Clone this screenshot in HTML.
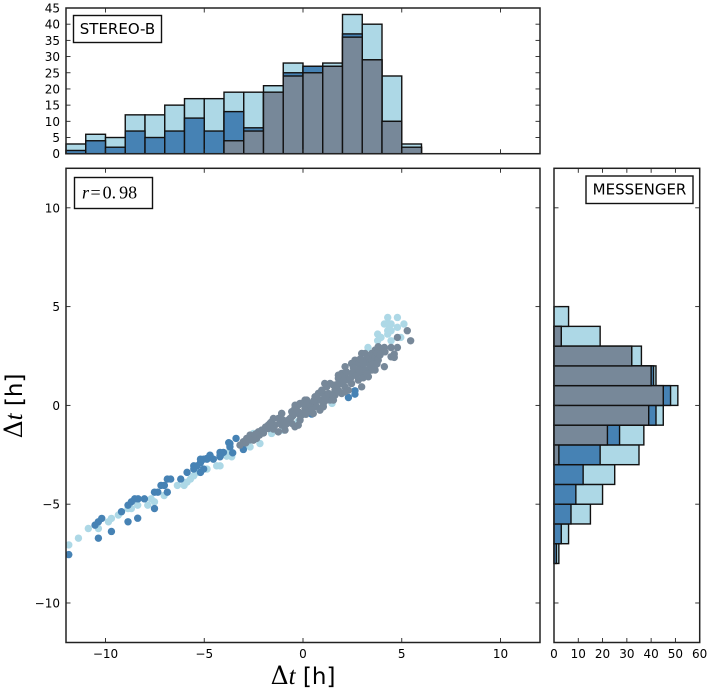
<!DOCTYPE html>
<html>
<head>
<meta charset="utf-8">
<style>
html,body{margin:0;padding:0;background:#fff;}
svg{display:block;filter:blur(0.3px);}
text{font-family:"DejaVu Sans","Liberation Sans",sans-serif;fill:#000;}
</style>
</head>
<body>
<svg id="fig" xmlns="http://www.w3.org/2000/svg" width="709" height="690" viewBox="0 0 709 690"></svg>
<script>
// ---- histogram data ----
const topEdges = [-12,-11,-10,-9,-8,-7,-6,-5,-4,-3,-2,-1,0,1,2,3,4,5,6];
const topLight = [3,6,5,12,12,15,17,17,19,19,21,28,27,28,43,40,24,3];
const topSteel = [1,4,2,7,5,7,11,7,13,8,19,25,27,27,37,29,10,2];
const topGray  = [0,0,0,0,0,0,0,0,4,7,19,24,25,27,36,29,10,2];
const rightEdges = [-8,-7,-6,-5,-4,-3,-2,-1,0,1,2,3,4,5];
const rightLight = [2,6,15,20,25,35,37,45,51,42,36,19,6];
const rightSteel = [1,3,7,9,12,19,27,42,48,41,32,3,0];
const rightGray  = [0,0,0,0,0,2,22,39,45,40,32,3,0];
// ---- tick labels ----
const mainTicks = [-10,-5,0,5,10];
const topCountTicks = [0,5,10,15,20,25,30,35,40,45];
const rightCountTicks = [0,10,20,30,40,50,60];
// ---- scatter data [x, y] in hours ----
const lightPoints = [[-11.86,-7.06],[-11.37,-6.72],[-10.87,-6.23],[-10.36,-6.23],[-9.85,-5.89],[-9.7,-5.72],[-9.35,-5.55],[-8.86,-5.22],[-8.69,-5.22],[-8.37,-5.05],[-7.86,-5.05],[-7.52,-4.88],[-7.69,-4.73],[-7.03,-4.56],[-6.36,-4.05],[-6.02,-4.05],[-5.87,-3.88],[-5.7,-3.73],[-5.53,-3.56],[-5.36,-3.39],[-4.86,-3.22],[-4.37,-3.06],[-4.2,-3.06],[-3.76,-2.38],[-3.86,-2.57],[-3.61,-2.6],[-2.68,-2.1],[-2.18,-1.93],[-2.51,-1.42],[-0.99,-1.25],[-0.24,-0.8],[-1.59,-1.42],[-2.85,-2.01],[1.47,0.1],[4.29,4.45],[4.78,4.45],[5.11,4.12],[4.12,4.12],[4.29,4.12],[4.46,4.12],[4.78,3.95],[4.29,3.78],[4.46,3.78],[3.78,3.61],[3.95,3.44],[4.29,3.61],[4.46,3.27],[3.78,3.27],[3.29,2.93],[4.95,3.44]];
const steelPoints = [[-11.86,-7.55],[-10.36,-6.72],[-9.7,-6.38],[-8.86,-5.89],[-8.37,-5.71],[-7.52,-5.22],[-10.53,-6.06],[-10.36,-5.89],[-10.19,-5.72],[-9.19,-5.38],[-8.86,-5.05],[-8.69,-4.88],[-8.52,-4.73],[-8.35,-4.73],[-8.03,-4.73],[-7.52,-4.39],[-7.35,-4.39],[-6.87,-4.39],[-7.19,-4.05],[-7.02,-4.05],[-6.87,-3.73],[-6.7,-3.73],[-6.19,-3.73],[-5.87,-3.39],[-5.53,-3.06],[-5.53,-3.22],[-5.36,-3.06],[-5.19,-2.89],[-5.19,-2.72],[-5.03,-2.72],[-5.19,-3.39],[-5.03,-3.22],[-4.86,-2.72],[-4.71,-2.55],[-4.54,-2.72],[-4.2,-2.55],[-4.03,-2.38],[-4.2,-2.38],[-3.76,-1.89],[-4.71,-2.52],[-4.12,-2.43],[-3.7,-1.93],[-3.7,-2.1],[-3.39,-1.67],[-3.02,-2.23],[-3.56,-2.4],[0.44,-0.44],[-4.2,-2.6],[-4.88,-2.69],[2.63,0.74],[2.63,0.57],[2.3,0.4],[0.46,-0.41]];
const grayPoints = [[-3.19,-2.01],[-3.02,-1.84],[-2.85,-1.67],[-2.68,-1.5],[-2.51,-1.76],[-2.35,-1.67],[-2.26,-1.34],[-2.09,-1.25],[-1.76,-1],[-1.59,-0.83],[-1.76,-1.17],[-1.5,-0.66],[-1.42,-1],[-1.25,-0.66],[-1.25,-1.34],[-1.08,-0.41],[-1.08,-1],[-0.91,-1.25],[-0.74,-0.74],[-0.57,-0.32],[-0.57,-0.58],[-0.41,-1.08],[-0.41,-0.15],[-0.24,0.02],[-0.24,-0.32],[-0.24,-1],[-0.07,0.1],[-0.07,-0.49],[0.1,0.27],[0.1,-0.15],[0.27,0.1],[0.27,-0.32],[0.44,-0.07],[0.61,0.44],[0.61,0.1],[0.78,0.61],[0.78,0.27],[-0.15,-0.49],[0.02,0.1],[0.19,0.27],[0.35,-0.24],[0.52,-0.41],[0.69,-0.07],[0.69,0.44],[0.86,0.27],[0.86,-0.24],[1.03,0.1],[1.03,0.6],[1.2,0.94],[1.2,0.44],[1.37,1.11],[1.37,0.27],[1.54,0.27],[1.62,0.77],[1.79,1.53],[1.79,1.37],[1.96,1.11],[1.96,0.6],[1.96,1.62],[2.13,1.96],[2.13,1.45],[2.13,0.94],[2.3,1.28],[2.3,0.77],[2.46,2.12],[2.46,1.62],[2.46,1.11],[2.63,2.29],[2.63,1.79],[2.8,1.28],[2.8,2.12],[2.97,2.63],[2.97,1.96],[2.97,1.62],[2.97,0.94],[3.14,2.63],[3.14,2.29],[3.14,1.79],[3.31,2.46],[3.31,2.12],[3.31,1.45],[3.48,2.29],[3.48,2.63],[3.48,1.79],[3.65,2.8],[3.65,2.46],[3.65,1.79],[3.81,2.97],[3.81,2.46],[3.81,2.29],[3.95,2.8],[5.28,3.78],[5.45,3.27],[4.78,3.44],[4.12,1.96],[4.78,2.93],[4.12,2.93],[4.46,2.93],[4.62,2.6],[4.46,2.46],[4.62,2.43],[4.15,2.71],[-1.67,-0.91],[-1.08,-0.41],[-1.17,-0.91],[-1,-0.75],[-0.4,0.01],[-0.15,0.1],[-0.32,-0.32],[-0.49,-0.49],[-0.57,-0.91],[-0.66,-0.66],[-0.07,-0.41],[0.95,0.77],[1.1,1.11],[1.54,1.03],[1.03,-0.07],[1.2,0.27],[1.45,0.35],[1.62,0.52],[1.79,0.77],[2.13,0.69],[1.87,1.11],[-2.9,-1.9],[-2.7,-1.75],[-2.4,-1.45],[-2.2,-1.5],[-2,-1.4],[-1.9,-1.1],[-1.5,-1.2],[-0.85,-0.95],[-0.15,-0.75],[0.15,-0.45],[0.45,-0.25],[0.55,0.25],[1.1,0.35],[1.3,0.6],[1.5,0.5],[1.7,1.05],[2.05,1.25],[2.2,1.7],[2.4,1.35],[2.55,1.9],[2.7,1.5],[2.85,1.8],[2.9,2.35],[3.05,1.4],[3.05,2.1],[3.25,1.6],[3.4,2],[3.55,2.1],[3.75,2.65],[3.75,2.1],[3.9,2.55]];

const NS = 'http://www.w3.org/2000/svg';
const svg = document.getElementById('fig');
const LIGHT = '#add8e6', STEEL = '#4682b4', GRAY = '#778899', EDGE = '#111';

// layout and axis functions
const L = 66, R = 540, T = 168.3, B = 642.5;
const HT = 8, HB = 153.7, RL = 554, RR = 699.7;
const sx = v => L + (v + 12) / 24 * (R - L);
const sy = v => B - (v + 12) / 24 * (B - T);
const topY = v => HB - v / 45 * (HB - HT);
const rightX = v => RL + v / 60 * (RR - RL);

function mk(tag, attrs, parent, txt) {
  const e = document.createElementNS(NS, tag);
  for (const k in attrs) e.setAttribute(k, attrs[k]);
  if (txt !== undefined) e.textContent = txt;
  (parent || svg).appendChild(e);
  return e;
}
function line(x1, y1, x2, y2, p) {
  const el = mk('line', {x1, y1, x2, y2, stroke: '#222', 'stroke-width': 0.9}, p);
  
  
  return el;
}
function frame(x, y, w, h, name) {
  const el = mk('rect', {x, y, width: w, height: h, fill: 'none', stroke: '#222', 'stroke-width': 1.5});
  
  
}
function fmt(v) { return v < 0 ? '\u2212' + Math.abs(v) : String(v); }
function label(x, y, v, anchor, name) {
  const el = mk('text', {x, y, 'font-size': 12, 'text-anchor': anchor}, svg, fmt(v));
  
  
}

// top histogram
function topBars(vals, color, name) {
  vals.forEach((v, i) => {
    if (v <= 0) return;
    const el = mk('rect', {x: sx(topEdges[i]), y: topY(v), width: sx(topEdges[i + 1]) - sx(topEdges[i]), height: topY(0) - topY(v), fill: color, stroke: EDGE, 'stroke-width': 1.4});
    
    
  });
}
topBars(topLight, LIGHT, 'stereo-b-light-bar');
topBars(topSteel, STEEL, 'stereo-b-steel-bar');
topBars(topGray, GRAY, 'stereo-b-gray-bar');

// right histogram
function rightBars(vals, color, name) {
  vals.forEach((v, i) => {
    if (v <= 0) return;
    const yTop = sy(rightEdges[i + 1]), yBot = sy(rightEdges[i]);
    const el = mk('rect', {x: rightX(0), y: yTop, width: rightX(v) - rightX(0), height: yBot - yTop, fill: color, stroke: EDGE, 'stroke-width': 1.4});
    
    
  });
}
rightBars(rightLight, LIGHT, 'messenger-light-bar');
rightBars(rightSteel, STEEL, 'messenger-steel-bar');
rightBars(rightGray, GRAY, 'messenger-gray-bar');

// scatter, clipped to the main axes
const defs = mk('defs', {});
const clip = mk('clipPath', {id: 'mainClip'}, defs);
mk('rect', {x: L, y: T, width: R - L, height: B - T}, clip);
const scatter = mk('g', {'clip-path': 'url(#mainClip)'});


function dots(pts, color, name) {
  pts.forEach(p => {
    const el = mk('circle', {cx: sx(p[0]), cy: sy(p[1]), r: 3.7, fill: color}, scatter);
    
    
  });
}
dots(lightPoints, LIGHT, 'light-point');
dots(steelPoints, STEEL, 'steel-point');
dots(grayPoints, GRAY, 'gray-point');

// ticks
const TL = 4.5;
mainTicks.forEach(v => {
  line(sx(v), B, sx(v), B - TL);
  line(sx(v), T, sx(v), T + TL);
  line(sx(v), HB, sx(v), HB - TL);
  line(sx(v), HT, sx(v), HT + TL);
  line(L, sy(v), L + TL, sy(v));
  line(R, sy(v), R - TL, sy(v));
  line(RL, sy(v), RL + TL, sy(v));
  line(RR, sy(v), RR - TL, sy(v));
  label(sx(v), 658, v, 'middle', 'x-tick-label');
  label(L - 6, sy(v) + 4.5, v, 'end', 'y-tick-label');
});
topCountTicks.forEach(v => {
  line(L, topY(v), L + TL, topY(v));
  line(R, topY(v), R - TL, topY(v));
  label(L - 6, topY(v) + 4.5, v, 'end', 'count-tick-label');
});
rightCountTicks.forEach(v => {
  line(rightX(v), B, rightX(v), B - TL);
  line(rightX(v), T, rightX(v), T + TL);
  label(rightX(v), 658, v, 'middle', 'count-tick-label');
});

// frames
frame(L, T, R - L, B - T, 'main-axes-frame');
frame(L, HT, R - L, HB - HT, 'top-histogram-frame');
frame(RL, T, RR - RL, B - T, 'right-histogram-frame');

// annotation boxes
function box(x, y, w, h, name) {
  const el = mk('rect', {x, y, width: w, height: h, fill: '#fff', stroke: '#111', 'stroke-width': 1.4});
  
  
}
box(73.5, 15.5, 88, 27, 'stereo-b-box');
const st = mk('text', {x: 117.5, y: 34, 'font-size': 15, 'text-anchor': 'middle'}, svg, 'STEREO-B');


box(586, 176, 107, 27.5, 'messenger-box');
const ms = mk('text', {x: 639.5, y: 194.5, 'font-size': 15, 'text-anchor': 'middle'}, svg, 'MESSENGER');


box(74.5, 177.5, 78, 31, 'correlation-box');
const rt = mk('text', {x: 82, y: 198.5, 'font-size': 18, style: 'font-family:"Liberation Serif",serif'}, svg);


mk('tspan', {'font-style': 'italic'}, rt, 'r');
mk('tspan', {dx: 1.5}, rt, '=');
mk('tspan', {dx: 2}, rt, '0.');
mk('tspan', {dx: 3}, rt, '98');

// axis titles
function axisTitle(attrs, name) {
  const t = mk('text', Object.assign({'font-size': 23, 'text-anchor': 'middle'}, attrs));
  
  
  mk('tspan', {'font-size': 25, style: 'font-family:"DejaVu Serif",serif'}, t, '\u0394');
  mk('tspan', {'font-size': 25, 'font-style': 'italic', style: 'font-family:"Liberation Serif",serif'}, t, 't');
  mk('tspan', {}, t, ' [h]');
}
axisTitle({x: 303, y: 684}, 'x-axis-title');
axisTitle({x: 0, y: 0, transform: 'translate(22 406) rotate(-90)'}, 'y-axis-title');
</script>
</body>
</html>
